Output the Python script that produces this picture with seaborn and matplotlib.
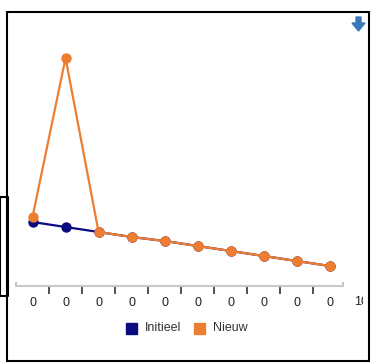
import numpy as np
import pandas as pd
import matplotlib
matplotlib.use("Agg")
import matplotlib.pyplot as plt
import seaborn as sns
from matplotlib.patches import Rectangle, Polygon
from matplotlib.lines import Line2D

# data (no y scale is shown, values are relative)
punten = list(range(10))
x_labels = ["0"] * 10
initieel = [64, 59, 54, 49, 45, 40, 35, 30, 25, 20]
nieuw = [69, 228, 54, 49, 45, 40, 35, 30, 25, 20]

NAVY = "#0b0b80"
ORANGE = "#ed7d31"

df = pd.DataFrame({
    "punt": punten * 2,
    "waarde": initieel + nieuw,
    "reeks": ["Initieel"] * 10 + ["Nieuw"] * 10,
})

sns.set_style("white")
plt.rcParams["font.family"] = ["Liberation Sans", "DejaVu Sans"]

W, H = 378, 363
fig = plt.figure(figsize=(W / 100, H / 100), dpi=100)

# axes: x from pixel 16 to 343, y from pixel 20 (top) to 286 (baseline)
ax = fig.add_axes([16 / W, (H - 286) / H, (343 - 16) / W, (286 - 20) / H])

sns.lineplot(data=df, x="punt", y="waarde", hue="reeks",
             palette={"Initieel": NAVY, "Nieuw": ORANGE},
             hue_order=["Initieel", "Nieuw"],
             marker="o", markersize=7.5, markeredgewidth=0,
             linewidth=1.6, legend=False, ax=ax)

ax.set_xlim(-0.5, 9.4)
ax.set_ylim(0, 266)
for s in ["left", "top", "right"]:
    ax.spines[s].set_visible(False)
ax.spines["bottom"].set_color("#c8c8c8")
ax.spines["bottom"].set_linewidth(1.5)
ax.set_yticks([])
ax.set_xlabel("")
ax.set_ylabel("")

# tick marks between the points, labels under the points
ax.tick_params(axis="x", which="both", bottom=True)
ax.set_xticks([i + 0.5 for i in range(9)], minor=True)
ax.tick_params(axis="x", which="minor", length=6, width=1.2, color="#333333",
               direction="out")
ax.set_xticks(punten)
ax.set_xticklabels(x_labels, fontsize=9, color="#222222")
ax.tick_params(axis="x", which="major", length=0, pad=8)

# light end caps of the axis line, pointing up
for xe in (-0.5, 9.4):
    ax.plot([xe, xe], [0, 4], color="#c8c8c8", linewidth=1.5,
            solid_capstyle="butt", clip_on=False)

# outer frame and left bracket
frame = Rectangle((7 / W, 2 / H), (369 - 7) / W, (351 - 2) / H,
                  transform=fig.transFigure, fill=False, edgecolor="black",
                  linewidth=1.5)
fig.patches.append(frame)
fig.lines.append(Line2D([0 / W, 8 / W, 8 / W, 0 / W, 0 / W],
                        [(H - 197) / H, (H - 197) / H, (H - 296) / H,
                         (H - 296) / H, (H - 197) / H],
                        transform=fig.transFigure, color="black", linewidth=1.5))

# last label "10" cut off at the right
clip = Rectangle((0, 0), 363 / W, 1, transform=fig.transFigure)
t = fig.text(361 / W, (H - 302) / H, "10", fontsize=9, color="#222222",
             ha="center", va="center")
t.set_clip_path(clip)

# legend
fig.patches.append(Rectangle((126 / W, (H - 334) / H), 11 / W, 11 / H,
                             transform=fig.transFigure, color=NAVY))
fig.text(145 / W, (H - 328) / H, "Initieel", fontsize=9, color="#333333",
         va="center")
fig.patches.append(Rectangle((194 / W, (H - 334) / H), 11 / W, 11 / H,
                             transform=fig.transFigure, color=ORANGE))
fig.text(213 / W, (H - 328) / H, "Nieuw", fontsize=9, color="#333333",
         va="center")

# download icon
pts = [(356, 17), (361, 17), (361, 23), (365, 23), (358.5, 31), (352, 23),
       (356, 23)]
fig.patches.append(Polygon([(x / W, (H - y) / H) for x, y in pts],
                           transform=fig.transFigure, color="#3a78b8"))

fig.savefig("out.png", dpi=100)
